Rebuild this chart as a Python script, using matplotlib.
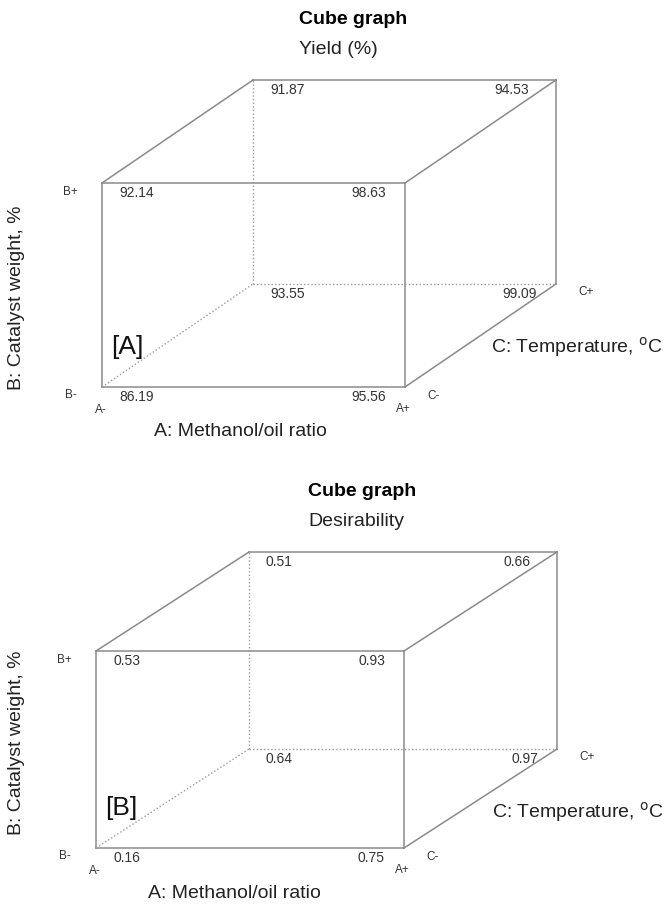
import matplotlib
matplotlib.use("Agg")
import matplotlib.pyplot as plt

plt.rcParams['font.family'] = ['Liberation Sans', 'DejaVu Sans']

# factor levels of each cube corner (A, B, C): -1 = low, +1 = high
corners = [(-1, -1, -1), (1, -1, -1), (-1, 1, -1), (1, 1, -1),
           (-1, -1, 1), (1, -1, 1), (-1, 1, 1), (1, 1, 1)]

yield_vals = [86.19, 95.56, 92.14, 98.63, 93.55, 99.09, 91.87, 94.53]
desir_vals = [0.16, 0.75, 0.53, 0.93, 0.64, 0.97, 0.51, 0.66]

subtitles = ["Yield (%)", "Desirability"]
tags = ["[A]", "[B]"]
a_label = "A: Methanol/oil ratio"
b_label = "B: Catalyst weight, %"
c_label = "C: Temperature, $^{\\mathrm{o}}$C"

edge_col = "#8a8a8a"
txt_col = "#333333"

fig = plt.figure(figsize=(6.66, 9.08), dpi=100)
ax = fig.add_axes([0, 0, 1, 1])
ax.set_xlim(0, 666)
ax.set_ylim(908, 0)
ax.axis("off")


def draw_cube(vals, fmt, x0, y0, w, h, dx, dy, subtitle, tag, blab_y, title_x):
    def pos(a, b, c):
        return (x0 + (a + 1) / 2 * w + (c + 1) / 2 * dx,
                y0 - (b + 1) / 2 * h + (c + 1) / 2 * dy)

    # edges join corners that differ in one factor
    for i, p in enumerate(corners):
        for q in corners[i + 1:]:
            if sum(u != v for u, v in zip(p, q)) != 1:
                continue
            hidden = (-1, -1, 1) in (p, q)
            (xa, ya), (xb, yb) = pos(*p), pos(*q)
            if hidden:
                ax.plot([xa, xb], [ya, yb], color="#9a9a9a", lw=1.0,
                        linestyle=(0, (1, 1.6)))
            else:
                ax.plot([xa, xb], [ya, yb], color=edge_col, lw=1.1,
                        solid_capstyle="projecting")

    for (a, b, c), v in zip(corners, vals):
        x, y = pos(a, b, c)
        if a < 0:
            ax.text(x + 17, y + 10, fmt.format(v), ha="left", va="center",
                    fontsize=10, color=txt_col)
        else:
            off = 27 if (b > 0 and c > 0) else 19
            ax.text(x - off, y + 10, fmt.format(v), ha="right", va="center",
                    fontsize=10, color=txt_col)

    xl, yb_ = pos(-1, -1, -1)
    xr, yt = pos(1, 1, -1)
    ax.text(xl - 32, yt + 9, "B+", ha="center", va="center", fontsize=8.5, color=txt_col)
    ax.text(xl - 31, yb_ + 8, "B-", ha="center", va="center", fontsize=8.5, color=txt_col)
    ax.text(xl - 1, yb_ + 23, "A-", ha="center", va="center", fontsize=8.5, color=txt_col)
    ax.text(xr - 2, yb_ + 22, "A+", ha="center", va="center", fontsize=8.5, color=txt_col)
    ax.text(xr + 29, yb_ + 9, "C-", ha="center", va="center", fontsize=8.5, color=txt_col)
    xbr, ybr = pos(1, -1, 1)
    ax.text(xbr + 30, ybr + 8, "C+", ha="center", va="center", fontsize=8.5, color=txt_col)

    ax.text(xl + 138, yb_ + 45, a_label, ha="center", va="center", fontsize=14, color="#222222")
    ax.text(17, blab_y, b_label, ha="center", va="center", rotation=90,
            fontsize=14, color="#222222")
    ax.text(xbr - 65, ybr + 63, c_label, ha="left", va="center", fontsize=14, color="#222222")

    ax.text(xl + 25, yb_ - 40, tag, ha="center", va="center", fontsize=19, color="#111111")

    _, ytop = pos(-1, 1, 1)
    ax.text(title_x, ytop - 61, "Cube graph", ha="left", va="center",
            fontsize=14, fontweight="bold", color="#000000")
    ax.text(title_x, ytop - 30, subtitle, ha="left", va="center",
            fontsize=14, color="#222222")


draw_cube(yield_vals, "{:.2f}", 102, 387, 303, 204, 151, -103, subtitles[0], tags[0], 298, 299)
draw_cube(desir_vals, "{:.2f}", 96, 848, 308, 197, 153, -99, subtitles[1], tags[1], 743, 308)

fig.savefig("out.png", dpi=100)
